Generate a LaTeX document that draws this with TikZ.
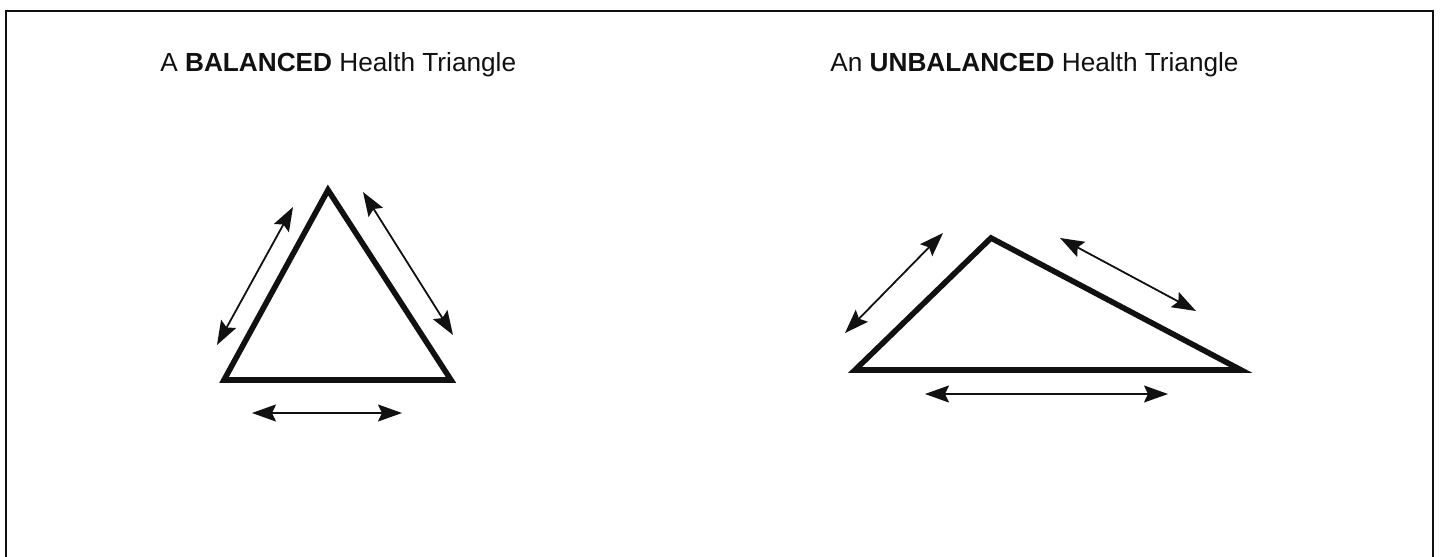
\documentclass[tikz,border=0pt]{standalone}
\usepackage{fontspec}
\setmainfont{Liberation Sans}
\usetikzlibrary{arrows.meta}
\definecolor{htInk}{HTML}{111111}
\tikzset{
  frameline/.style ={htInk,line width=0.9pt},
  side/.style      ={htInk,line width=2.8pt,line join=miter},
  pull/.style      ={{Stealth[length=12pt,width=8.5pt,inset=2pt]}-{Stealth[length=12pt,width=8.5pt,inset=2pt]},
                     htInk,line width=0.9pt},
  ttl/.style       ={font=\fontsize{13.1}{15}\selectfont,text=htInk,inner sep=0pt,anchor=base west},
}
\begin{document}
\begin{tikzpicture}[x=0.5pt,y=-0.5pt]
\useasboundingbox (0,0) rectangle (1442,557);
% open frame
\coordinate (fBL) at (6,557);
\coordinate (fTL) at (6,11);
\coordinate (fTR) at (1433,11);
\coordinate (fBR) at (1433,557);
\draw[frameline] (fBL) -- (fTL) -- (fTR) -- (fBR);

% titles
\node[ttl] (balTitle) at (160,71) {A \textbf{BALANCED} Health Triangle};
\node[ttl] (unbTitle) at (830,71) {An \textbf{UNBALANCED} Health Triangle};

% balanced triangle
\coordinate (bTop) at (328,190);
\coordinate (bLeft) at (224,380);
\coordinate (bRight) at (451,380);
\draw[side] (bTop) -- (bLeft) -- (bRight) -- cycle;
\coordinate (bL1) at (217,345);
\coordinate (bL2) at (293,207);
\coordinate (bR1) at (363,192);
\coordinate (bR2) at (453,335);
\coordinate (bB1) at (252,413);
\coordinate (bB2) at (402,413);
\draw[pull] (bL1) -- (bL2);
\draw[pull] (bR1) -- (bR2);
\draw[pull] (bB1) -- (bB2);

% unbalanced triangle
\coordinate (uTop) at (991,238);
\coordinate (uLeft) at (855,370);
\coordinate (uRight) at (1241,370);
\draw[side] (uTop) -- (uLeft) -- (uRight) -- cycle;
\coordinate (uL1) at (845,333);
\coordinate (uL2) at (943,233);
\coordinate (uR1) at (1060,238);
\coordinate (uR2) at (1196,311);
\coordinate (uB1) at (925,394);
\coordinate (uB2) at (1168,394);
\draw[pull] (uL1) -- (uL2);
\draw[pull] (uR1) -- (uR2);
\draw[pull] (uB1) -- (uB2);
\end{tikzpicture}
\end{document}
